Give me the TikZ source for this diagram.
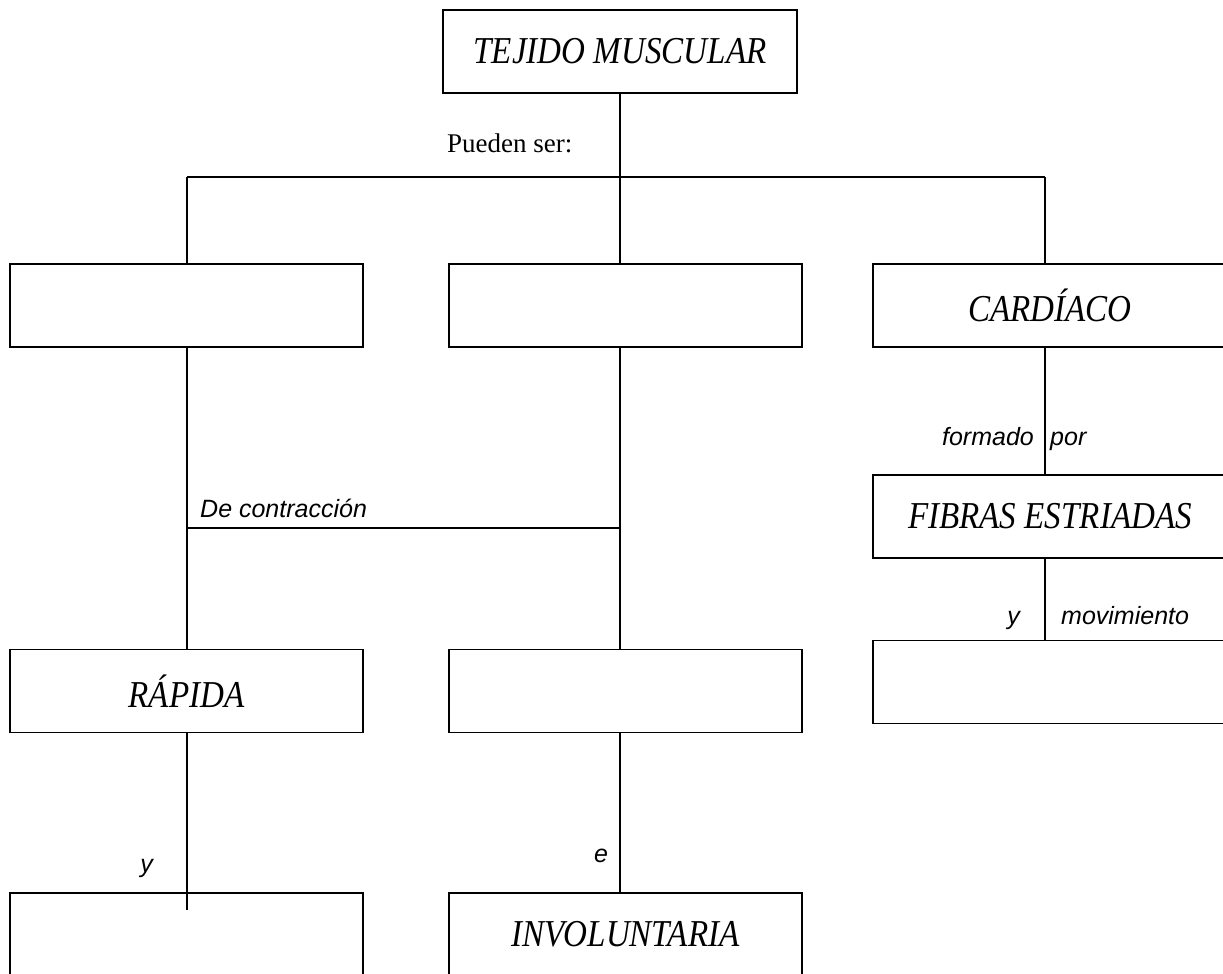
\documentclass[tikz,border=0pt]{standalone}
\usepackage{fontspec}
\setmainfont{Liberation Serif}
\newfontfamily\boxfont{Liberation Serif}[FakeStretch=0.87]
\newfontfamily\lblfont{Liberation Sans}
\begin{document}
\begin{tikzpicture}[x=1pt,y=-1pt,
  box/.style={draw, fill=white, line width=1.3pt, minimum width=353pt, minimum height=83pt, inner sep=0pt,
    font=\boxfont\itshape\fontsize{38}{40}\selectfont},
  conn/.style={line width=1.3pt},
  lbl/.style={inner sep=0pt, font=\lblfont\itshape\fontsize{25}{28}\selectfont},
  plain/.style={inner sep=0pt, font=\fontsize{27}{30}\selectfont}]
\useasboundingbox (0,0) rectangle (1223,974);
\begin{scope}
\clip (0,0) rectangle (1223,974);
% boxes
\node[box, minimum width=354pt] (top) at (620,51.5) {TEJIDO MUSCULAR};
\node[box] (L1) at (186.5,305.5) {};
\node[box] (M1) at (625.5,305.5) {};
\node[box, minimum width=354pt] (R1) at (1050,305.5) {CARDÍACO};
\node[box] (L2) at (186.5,691) {RÁPIDA};
\node[box] (M2) at (625.5,691) {};
\node[box] (L3) at (186.5,934.5) {};
\node[box] (M3) at (625.5,934.5) {INVOLUNTARIA};
\node[box, minimum width=354pt] (R2) at (1050,516.5) {FIBRAS ESTRIADAS};
\node[box, minimum width=354pt] (R3) at (1050,682) {};
% helper coordinates
\coordinate (jc) at (620,177);
\coordinate (jl) at (187,177);
\coordinate (jr) at (1045,177);
\coordinate (kl) at (187,528);
\coordinate (kc) at (620,528);
\coordinate (ltail) at (187,910);
% connectors
\draw[conn] (top.south) -- (jc);
\draw[conn] (jl) -- (jr);
\draw[conn] (jl) -- (jl |- L1.north);
\draw[conn] (jc) -- (jc |- M1.north);
\draw[conn] (jr) -- (jr |- R1.north);
\draw[conn] (jl |- L1.south) -- (jl |- L2.north);
\draw[conn] (jl |- L2.south) -- (ltail);
\draw[conn] (kl) -- (kc);
\draw[conn] (jc |- M1.south) -- (jc |- M2.north);
\draw[conn] (jc |- M2.south) -- (jc |- M3.north);
\draw[conn] (jr |- R1.south) -- (jr |- R2.north);
\draw[conn] (jr |- R2.south) -- (jr |- R3.north);
% labels
\node[plain, anchor=base west] (pueden) at (447,152) {Pueden ser:};
\node[lbl, anchor=base west] (decon) at (200,517) {De contracción};
\node[lbl, anchor=base east] (formado) at (1034,445) {formado};
\node[lbl, anchor=base west] (por) at (1050,445) {por};
\node[lbl, anchor=base east] (yr) at (1020,624) {y};
\node[lbl, anchor=base west] (mov) at (1061,624) {movimiento};
\node[lbl, anchor=base east] (yl) at (153,872) {y};
\node[lbl, anchor=base west] (e) at (594,862) {e};
\end{scope}
\end{tikzpicture}
\end{document}
